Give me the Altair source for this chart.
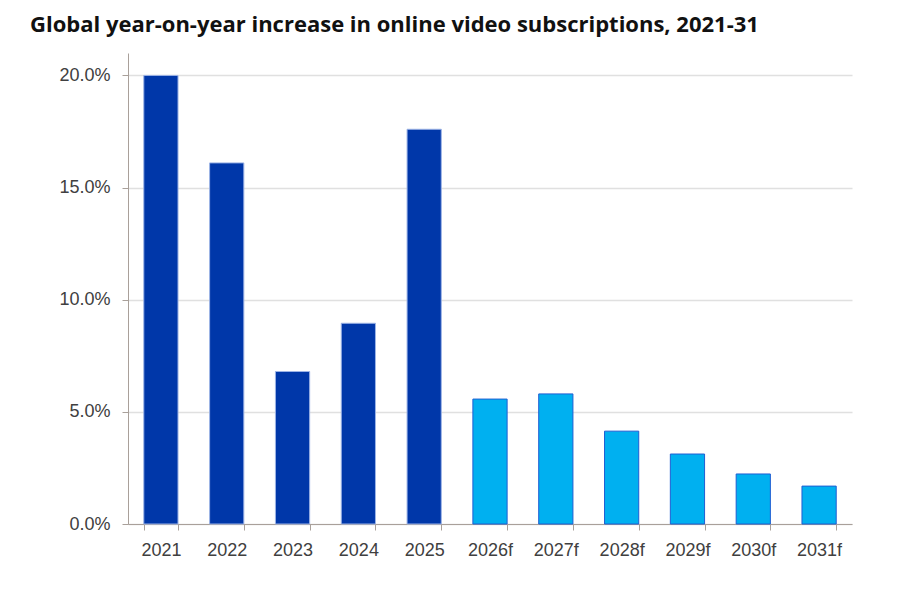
import altair as alt
import pandas as pd

# Year-on-year growth of global online video subscriptions (share, 0-1)
years = ["2021", "2022", "2023", "2024", "2025",
         "2026f", "2027f", "2028f", "2029f", "2030f", "2031f"]
growth = [0.200, 0.161, 0.068, 0.0895, 0.176,
          0.0557, 0.058, 0.0414, 0.0312, 0.0223, 0.0169]
kind = ["Actual"] * 5 + ["Forecast"] * 6

df = pd.DataFrame({"year": years, "growth": growth, "kind": kind})

axis_color = "#a9a09a"
label_color = "#404040"

bars = alt.Chart(df).mark_bar(strokeWidth=1).encode(
    x=alt.X("year:N", sort=years, title=None,
            scale=alt.Scale(paddingInner=0.48, paddingOuter=0.24),
            axis=alt.Axis(labelAngle=0, tickBand="extent", grid=False,
                          domainColor=axis_color, tickColor=axis_color,
                          tickSize=6, labelPadding=11, labelFontSize=18,
                          labelFont="Liberation Sans", labelColor=label_color)),
    y=alt.Y("growth:Q", title=None,
            scale=alt.Scale(domain=[0, 0.21], nice=False),
            axis=alt.Axis(format=".1%", values=[0, 0.05, 0.10, 0.15, 0.20],
                          domainColor=axis_color, tickColor=axis_color,
                          tickSize=6, labelPadding=12, labelFontSize=18,
                          labelFont="Liberation Sans", labelColor=label_color,
                          gridColor="#e0e0e0", gridWidth=1.5)),
    color=alt.Color("kind:N", legend=None,
                    scale=alt.Scale(domain=["Actual", "Forecast"],
                                    range=["#0037a9", "#00b0f0"])),
    stroke=alt.Stroke("kind:N", legend=None,
                      scale=alt.Scale(domain=["Actual", "Forecast"],
                                      range=["#9db4e6", "#1f5ed2"])),
)

chart = bars.properties(
    width=724,
    height=471,
    background="white",
    title=alt.TitleParams(
        "Global year-on-year increase in online video subscriptions, 2021-31",
        anchor="start", frame="group", dx=-98, dy=19, offset=18,
        baseline="alphabetic",
        font="Open Sans", fontSize=22, fontWeight="bold", color="#111111"),
    autosize=alt.AutoSizeParams(type="none"),
    padding={"left": 128, "top": 53, "right": 48, "bottom": 67},
).configure_view(stroke=None, strokeWidth=0)

chart.save("out.html", embed_options={"renderer": "svg", "actions": False})
